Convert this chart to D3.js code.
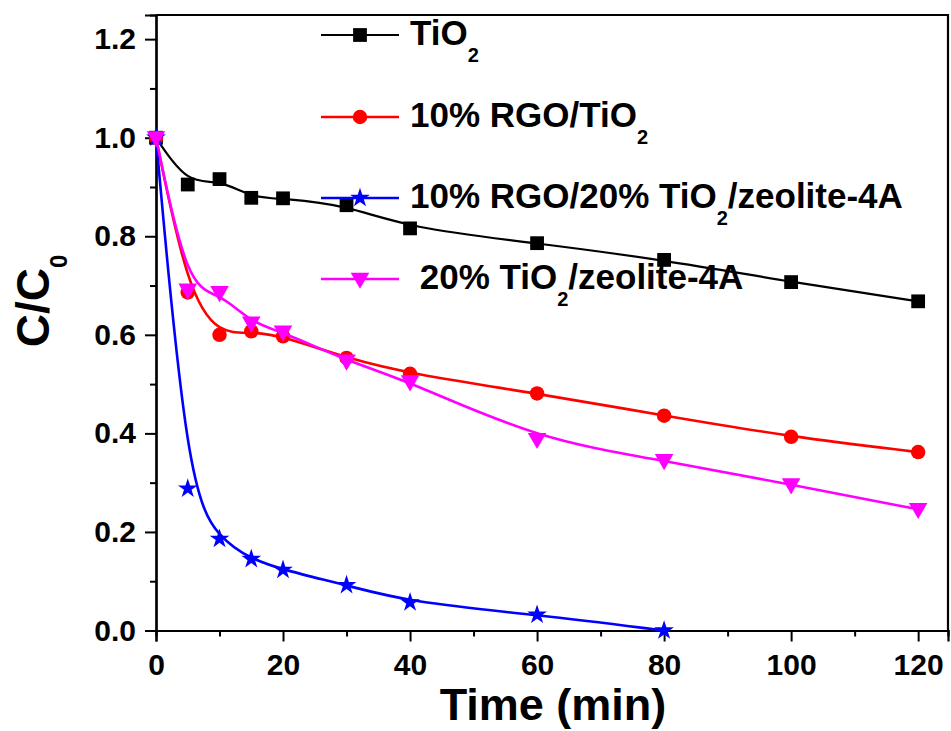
<!DOCTYPE html>
<html>
<head>
<meta charset="utf-8">
<script src="https://cdn.jsdelivr.net/npm/d3@7"></script>
<style>
  body { margin: 0; background: #fff; }
  text { font-family: 'Liberation Sans', Arial, sans-serif; font-weight: bold; fill: #000; }
</style>
</head>
<body>
<div id="chart"></div>
<script>
// time points (min)
var times = [0, 5, 10, 15, 20, 30, 40, 60, 80, 100, 120]
var timesBlue = [0, 5, 10, 15, 20, 30, 40, 60, 80]
// C/C0 for each sample
var tio2 = [1.0, 0.905, 0.916, 0.878, 0.877, 0.863, 0.816, 0.786, 0.752, 0.707, 0.668]
var rgoTio2 = [1.0, 0.686, 0.600, 0.607, 0.597, 0.553, 0.521, 0.481, 0.436, 0.393, 0.362]
var rgoTio2Zeolite = [1.0, 0.288, 0.186, 0.145, 0.123, 0.092, 0.057, 0.032, 0.0]
var tio2Zeolite = [1.0, 0.691, 0.686, 0.624, 0.606, 0.547, 0.505, 0.388, 0.345, 0.296, 0.246]
// labels, "_2" marks a subscript
var labels = ['TiO_2', '10% RGO/TiO_2', '10% RGO/20% TiO_2/zeolite-4A', ' 20% TiO_2/zeolite-4A']
var colors = ['#000000', '#ff0000', '#0000ff', '#ff00ff']
var markers = ['square', 'circle', 'star', 'triangleDown']
var xTicks = [0, 20, 40, 60, 80, 100, 120]
var xMinor = [10, 30, 50, 70, 90, 110]
var yTicks = [0, 0.2, 0.4, 0.6, 0.8, 1.0, 1.2]
var yMinor = [0.1, 0.3, 0.5, 0.7, 0.9, 1.1]

var series = [
  { t: times, v: tio2 },
  { t: times, v: rgoTio2 },
  { t: timesBlue, v: rgoTio2Zeolite },
  { t: times, v: tio2Zeolite }
].map((s, i) => ({
  points: s.t.map((t, j) => [t, s.v[j]]),
  label: labels[i],
  color: colors[i],
  marker: markers[i]
}))

var width = 951
var height = 731
var plot = { left: 156, right: 948, top: 15, bottom: 630.5 }

var svg = d3.select('#chart')
  .append('svg')
  .attr('width', width)
  .attr('height', height)

var x = d3.scaleLinear().domain([0, 124.7]).range([plot.left, plot.right])
var y = d3.scaleLinear().domain([0, 1.249]).range([plot.bottom, plot.top])

var line = d3.line()
  .x(d => x(d[0]))
  .y(d => y(d[1]))
  .curve(d3.curveBasis)

// marker drawing
var symbolGen = {
  square: d3.symbol().type(d3.symbolSquare).size(190),
  circle: d3.symbol().type(d3.symbolCircle).size(165),
  star: d3.symbol().type(d3.symbolStar).size(120),
  triangleDown: d3.symbol().type(d3.symbolTriangle).size(150)
}
function drawMarker (g, type, color, cx, cy) {
  var rot = type === 'triangleDown' ? ' rotate(180)' : ''
  var dy = type === 'triangleDown' ? -1 : 0
  g.append('path')
    .attr('d', symbolGen[type]())
    .attr('transform', `translate(${cx},${cy + dy})${rot}`)
    .attr('fill', color)
}

// axes
var xAxis = d3.axisBottom(x).tickValues(xTicks).tickSize(11).tickPadding(12).tickFormat(d3.format('d'))
var yAxis = d3.axisLeft(y).tickValues(yTicks).tickSize(11).tickPadding(9).tickFormat(d3.format('.1f'))

svg.append('g').attr('transform', `translate(0,${plot.bottom})`).call(xAxis)
svg.append('g').attr('transform', `translate(${plot.left},0)`).call(yAxis)
svg.append('g').attr('transform', `translate(0,${plot.bottom})`)
  .call(d3.axisBottom(x).tickValues(xMinor).tickSize(6).tickFormat(''))
svg.append('g').attr('transform', `translate(${plot.left},0)`)
  .call(d3.axisLeft(y).tickValues(yMinor).tickSize(6).tickFormat(''))

svg.selectAll('.domain').attr('stroke', '#000').attr('stroke-width', 2.2)
svg.selectAll('.tick line').attr('stroke', '#000').attr('stroke-width', 2)
svg.selectAll('.tick text')
  .style('font-size', '30px')
  .style('font-family', "'Liberation Sans', Arial, sans-serif")
  .style('font-weight', 'bold')
  .attr('fill', '#000')

// top and right frame
svg.append('path')
  .attr('d', `M${plot.left},${plot.top}H${plot.right}V${plot.bottom}`)
  .attr('fill', 'none')
  .attr('stroke', '#000')
  .attr('stroke-width', 2.2)

// curves then markers
series.forEach(s => {
  svg.append('path')
    .datum(s.points)
    .attr('d', line)
    .attr('fill', 'none')
    .attr('stroke', s.color)
    .attr('stroke-width', s.color === '#000000' ? 2.2 : 2.6)
  var g = svg.append('g')
  s.points.forEach(p => drawMarker(g, s.marker, s.color, x(p[0]), y(p[1])))
})

// text with subscripts
function richText (sel, str, mainSize, subSize, subShift) {
  var parts = str.split(/_(\d)/)
  parts.forEach((p, i) => {
    if (p === '') return
    var isSub = i % 2 === 1
    var span = sel.append('tspan').text(p).style('font-size', (isSub ? subSize : mainSize) + 'px')
    if (isSub) span.attr('dy', subShift)
    else if (i > 0) span.attr('dy', -subShift)
  })
}

// legend
var legendY = [35, 117, 198, 279]
series.forEach((s, i) => {
  var ly = legendY[i]
  svg.append('line')
    .attr('x1', 321).attr('x2', 399)
    .attr('y1', ly).attr('y2', ly)
    .attr('stroke', s.color)
    .attr('stroke-width', s.color === '#000000' ? 2.2 : 2.6)
  drawMarker(svg.append('g'), s.marker, s.color, 360, ly)
  var t = svg.append('text')
    .attr('x', 410)
    .attr('y', ly + 10)
    .style('white-space', 'pre')
  richText(t, s.label, 35, 20, 17)
})

// axis titles
svg.append('text')
  .attr('x', 553)
  .attr('y', 720)
  .attr('text-anchor', 'middle')
  .style('font-size', '45px')
  .text('Time (min)')

var yt = svg.append('text')
  .attr('transform', 'translate(49,301) rotate(-90)')
  .attr('text-anchor', 'middle')
richText(yt, 'C/C_0', 46, 24, 18)
</script>
</body>
</html>
